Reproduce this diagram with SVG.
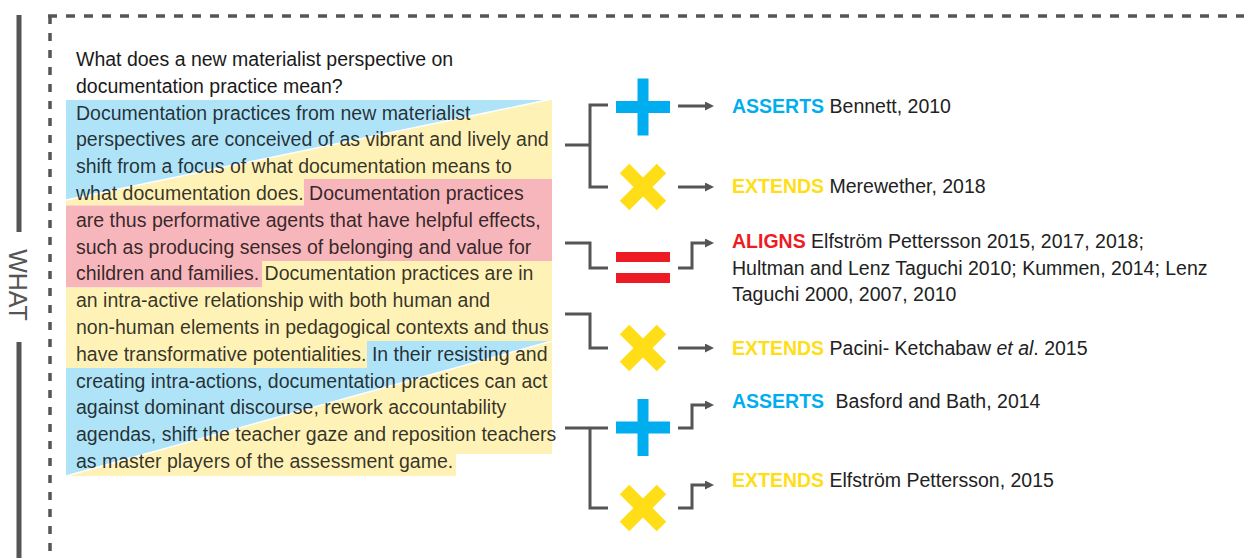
<svg xmlns="http://www.w3.org/2000/svg" width="1244" height="558" viewBox="0 0 1244 558">
  <defs>
    <style>
      .t{font-family:"Liberation Sans",Arial,Helvetica,sans-serif;font-size:19.5px}
      .title{fill:#1a1a1a}
      .para{fill:#000;fill-opacity:.8}
      .ref{fill:#222}
      .kw{font-weight:bold}
      .blue{fill:#00AEEF}
      .yellow{fill:#FFDE17}
      .red{fill:#ED1C24}
      .hl-blue{fill:#AFE4F8}
      .hl-yellow{fill:#FFF2B7}
      .hl-pink{fill:#F7B6BB}
      .seam{stroke:#fff;stroke-width:1.5}
      .conn{fill:none;stroke:#555;stroke-width:3}
      .arrow{fill:none;stroke:#555;stroke-width:3;marker-end:url(#head)}
      .cross{stroke:#FFDE17;stroke-width:13.5;stroke-linecap:butt}
    </style>
    <marker id="head" viewBox="0 0 10 10" refX="0" refY="5" markerWidth="10" markerHeight="9" markerUnits="userSpaceOnUse" orient="auto">
      <path d="M0,0 L10,5 L0,10 z" fill="#555"/>
    </marker>
    <clipPath id="clipA">
      <polygon points="66,100 552,100 552,179 304,179 304,205.5 66,205.5"/>
    </clipPath>
    <clipPath id="clipC">
      <polygon points="367,341 552,341 552,454 456,454 456,476 66,476 66,368 367,368"/>
    </clipPath>
    <!-- yellow cross glyph -->
    <g id="cross">
      <line class="cross" x1="-18.5" y1="-18.5" x2="18.5" y2="18.5"/>
      <line class="cross" x1="-18.5" y1="18.5" x2="18.5" y2="-18.5"/>
    </g>
    <!-- blue plus glyph -->
    <g id="plus" class="blue">
      <rect x="-27" y="-6" width="54" height="12"/>
      <rect x="-5.5" y="-28.5" width="11" height="57"/>
    </g>
  </defs>

  <rect width="1244" height="558" fill="#fff"/>

  <!-- frame: side rule with section label and dashed panel border -->
  <g id="frame">
    <line x1="19" y1="15" x2="19" y2="232" stroke="#555" stroke-width="5"/>
    <line x1="19" y1="342" x2="19" y2="558" stroke="#555" stroke-width="5"/>
    <text class="t" x="0" y="0" transform="translate(9,285) rotate(90)" text-anchor="middle" style="font-size:25px" fill="#555">WHAT</text>
    <path d="M48,16 H1244" stroke="#555" stroke-width="3.5" stroke-dasharray="9 9" fill="none"/>
    <path d="M50,16 V558" stroke="#555" stroke-width="3.5" stroke-dasharray="8 9" fill="none"/>
  </g>

  <!-- highlighted passages -->
  <g id="highlights">
    <g clip-path="url(#clipA)">
      <rect x="60" y="95" width="500" height="115" class="hl-yellow"/>
      <polygon points="66,99 552,99 66,200" class="hl-blue"/>
      <line x1="552" y1="99" x2="66" y2="200" class="seam"/>
    </g>
    <polygon class="hl-pink" points="304,179 552,179 552,261 262,261 262,287.6 66,287.6 66,205.5 304,205.5"/>
    <polygon class="hl-yellow" points="262,261 552,261 552,341 367,341 367,368 66,368 66,287.6 262,287.6"/>
    <g clip-path="url(#clipC)">
      <rect x="60" y="336" width="500" height="145" class="hl-yellow"/>
      <polygon points="66,341 552,341 66,476" class="hl-blue"/>
      <line x1="552" y1="341" x2="66" y2="476" class="seam"/>
    </g>
  </g>

  <g id="question">
    <text class="t title">
      <tspan x="76" y="66">What does a new materialist perspective on</tspan>
      <tspan x="76" y="93">documentation practice mean?</tspan>
    </text>
  </g>

  <g id="summary">
    <text class="t para">
      <tspan x="76" y="119.5">Documentation practices from new materialist</tspan>
      <tspan x="76" y="146.3">perspectives are conceived of as vibrant and lively and</tspan>
      <tspan x="76" y="173.1">shift from a focus of what documentation means to</tspan>
      <tspan x="76" y="199.9">what documentation does. Documentation practices</tspan>
      <tspan x="76" y="226.7">are thus performative agents that have helpful effects,</tspan>
      <tspan x="76" y="253.5">such as producing senses of belonging and value for</tspan>
      <tspan x="76" y="280.3">children and families. Documentation practices are in</tspan>
      <tspan x="76" y="307.1">an intra-active relationship with both human and</tspan>
      <tspan x="76" y="333.9">non-human elements in pedagogical contexts and thus</tspan>
      <tspan x="76" y="360.7">have transformative potentialities. In their resisting and</tspan>
      <tspan x="76" y="387.5">creating intra-actions, documentation practices can act</tspan>
      <tspan x="76" y="414.3">against dominant discourse, rework accountability</tspan>
      <tspan x="76" y="441.1">agendas, shift the teacher gaze and reposition teachers</tspan>
      <tspan x="76" y="467.9">as master players of the assessment game.</tspan>
    </text>
  </g>

  <!-- brackets and arrows -->
  <g id="connectors">
    <path class="conn" d="M565,145 H590 M608,105 H590 V187 H608"/>
    <path class="conn" d="M565,243 H590 V268 H608"/>
    <path class="conn" d="M565,314 H590 V348 H608"/>
    <path class="conn" d="M565,428 H608 M590,428 V508 H608"/>
    <path class="arrow" d="M678,106 H705"/>
    <path class="arrow" d="M678,187 H705"/>
    <path class="arrow" d="M678,268 H692 V243 H705"/>
    <path class="arrow" d="M678,348 H705"/>
    <path class="arrow" d="M678,428 H692 V405 H705"/>
    <path class="arrow" d="M678,508 H692 V485 H705"/>
  </g>

  <g id="asserts-bennett">
    <use href="#plus" x="643" y="107"/>
    <text class="t ref" x="732" y="113"><tspan class="kw blue">ASSERTS</tspan> Bennett, 2010</text>
  </g>

  <g id="extends-merewether">
    <use href="#cross" x="643" y="187"/>
    <text class="t ref" x="732" y="193"><tspan class="kw yellow">EXTENDS</tspan> Merewether, 2018</text>
  </g>

  <g id="aligns-elfstrom">
    <rect class="red" x="616" y="252" width="54" height="10"/>
    <rect class="red" x="616" y="273" width="54" height="10"/>
    <text class="t ref">
      <tspan x="732" y="248"><tspan class="kw red">ALIGNS</tspan> Elfström Pettersson 2015, 2017, 2018;</tspan>
      <tspan x="732" y="274.5">Hultman and Lenz Taguchi 2010; Kummen, 2014; Lenz</tspan>
      <tspan x="732" y="301">Taguchi 2000, 2007, 2010</tspan>
    </text>
  </g>

  <g id="extends-pacini">
    <use href="#cross" x="643" y="348"/>
    <text class="t ref" x="732" y="355"><tspan class="kw yellow">EXTENDS</tspan> Pacini- Ketchabaw <tspan font-style="italic">et al</tspan>. 2015</text>
  </g>

  <g id="asserts-basford">
    <use href="#plus" x="643" y="427.5"/>
    <text class="t ref" x="732" y="408"><tspan class="kw blue">ASSERTS</tspan><tspan dx="6"> Basford and Bath, 2014</tspan></text>
  </g>

  <g id="extends-elfstrom">
    <use href="#cross" x="643" y="508"/>
    <text class="t ref" x="732" y="487"><tspan class="kw yellow">EXTENDS</tspan> Elfström Pettersson, 2015</text>
  </g>
</svg>
